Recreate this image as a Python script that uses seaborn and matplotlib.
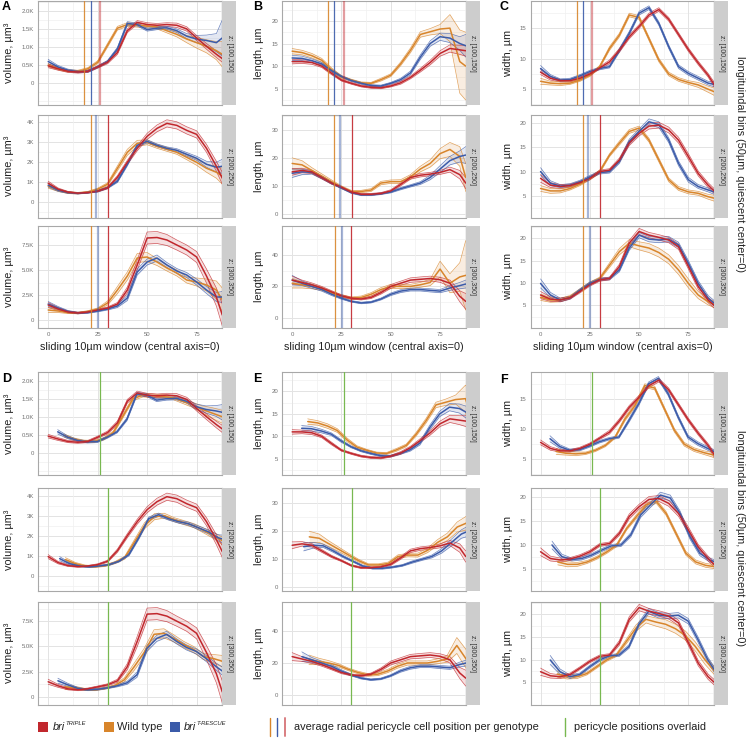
import numpy as np
import pandas as pd
import matplotlib
matplotlib.use("Agg")
import matplotlib.pyplot as plt
import seaborn as sns
from matplotlib.patches import Rectangle
from matplotlib.lines import Line2D

# ---------------- data ----------------
xs = [0, 5, 10, 15, 20, 25, 30, 35, 40, 45, 50, 55, 60, 65, 70, 75, 80, 85, 88]

# volume (thousands of µm³)
vol1_tri = [0.48,0.40,0.33,0.31,0.33,0.45,0.58,0.85,1.45,1.68,1.62,1.60,1.62,1.60,1.50,1.25,1.02,0.80,0.68]
vol1_tri_se = [0.05,0.04,0.03,0.03,0.03,0.03,0.04,0.05,0.05,0.05,0.05,0.05,0.05,0.06,0.06,0.07,0.08,0.09,0.10]
vol1_wt = [0.50,0.40,0.34,0.33,0.40,0.58,1.05,1.52,1.62,1.60,1.58,1.55,1.45,1.35,1.22,1.12,1.02,0.90,0.80]
vol1_wt_se = [0.04,0.03,0.03,0.03,0.03,0.04,0.05,0.05,0.05,0.05,0.05,0.05,0.06,0.07,0.10,0.15,0.18,0.25,0.35]
vol1_res = [0.60,0.45,0.36,0.32,0.33,0.45,0.60,0.95,1.65,1.62,1.48,1.52,1.53,1.45,1.30,1.22,1.18,1.12,1.25]
vol1_res_se = [0.06,0.04,0.03,0.03,0.03,0.03,0.03,0.04,0.05,0.04,0.04,0.04,0.04,0.05,0.07,0.10,0.15,0.25,0.50]

vol2_tri = [0.95,0.65,0.50,0.45,0.48,0.55,0.72,1.25,2.00,2.70,3.30,3.70,3.95,3.85,3.60,3.40,2.70,1.80,1.20]
vol2_tri_se = [0.10,0.06,0.04,0.03,0.03,0.04,0.05,0.08,0.10,0.12,0.15,0.17,0.18,0.18,0.18,0.18,0.20,0.25,0.30]
vol2_wt = [0.80,0.60,0.48,0.45,0.50,0.65,0.90,1.70,2.50,2.95,3.00,2.80,2.65,2.50,2.25,2.00,1.70,1.50,1.30]
vol2_wt_se = [0.10,0.06,0.05,0.04,0.04,0.05,0.07,0.12,0.15,0.15,0.12,0.10,0.10,0.10,0.12,0.15,0.20,0.30,0.40]
vol2_res = [0.85,0.60,0.48,0.44,0.48,0.55,0.72,1.05,1.90,2.85,3.05,2.85,2.70,2.60,2.40,2.20,1.90,1.75,1.80]
vol2_res_se = [0.10,0.06,0.04,0.03,0.03,0.04,0.04,0.06,0.08,0.08,0.08,0.07,0.07,0.08,0.09,0.10,0.15,0.25,0.35]

vol3_tri = [1.50,1.10,0.80,0.70,0.80,1.00,1.20,1.60,3.00,5.50,8.20,8.25,8.00,7.50,7.00,6.30,4.40,2.30,0.50]
vol3_tri_se = [0.25,0.15,0.10,0.08,0.08,0.08,0.10,0.15,0.30,0.50,0.60,0.60,0.55,0.50,0.50,0.55,0.70,0.90,1.10]
vol3_wt = [1.00,0.90,0.75,0.70,0.85,1.10,1.70,3.00,4.40,6.20,6.30,5.80,5.20,4.70,4.00,3.80,3.50,3.00,2.00]
vol3_wt_se = [0.25,0.15,0.10,0.08,0.08,0.10,0.20,0.35,0.40,0.45,0.45,0.35,0.30,0.30,0.30,0.40,0.60,0.90,1.20]
vol3_res = [1.60,1.20,0.85,0.70,0.75,0.90,1.10,1.40,2.20,4.80,5.80,6.20,5.50,4.90,4.50,3.80,3.00,2.30,2.30]
vol3_res_se = [0.25,0.15,0.10,0.08,0.08,0.08,0.10,0.15,0.25,0.30,0.30,0.30,0.25,0.25,0.25,0.30,0.35,0.45,0.55]

# length (µm)
len1_tri = [11.0,11.0,10.8,10.0,8.4,6.9,6.2,5.6,5.3,5.2,5.6,6.3,7.5,9.1,10.8,12.8,13.9,13.6,13.4]
len1_tri_se = [0.5,0.4,0.4,0.3,0.3,0.2,0.2,0.2,0.2,0.2,0.2,0.3,0.3,0.4,0.5,0.6,0.8,1.0,1.2]
len1_wt = [13.3,13.0,12.3,11.3,9.2,7.6,6.9,6.3,6.2,7.0,8.0,10.5,13.5,17.0,17.6,18.2,18.4,11.0,10.0]
len1_wt_se = [0.6,0.5,0.5,0.4,0.4,0.3,0.2,0.2,0.2,0.3,0.3,0.4,0.5,0.6,0.7,1.0,3.0,7.0,7.5]
len1_res = [11.8,11.7,11.2,10.5,9.0,7.7,6.8,6.2,5.7,5.6,6.2,7.0,8.5,12.0,15.0,16.5,16.2,15.0,14.5]
len1_res_se = [0.6,0.5,0.4,0.3,0.3,0.2,0.2,0.2,0.2,0.2,0.2,0.3,0.4,0.5,0.6,0.8,1.0,1.5,2.5]

len2_tri = [15.0,15.5,15.0,13.0,11.0,9.5,7.8,7.0,7.0,7.3,8.2,10.5,13.0,13.8,14.2,14.8,15.8,14.0,11.0]
len2_tri_se = [1.2,0.8,0.6,0.5,0.4,0.3,0.3,0.3,0.3,0.3,0.4,0.5,0.6,0.6,0.6,0.7,0.9,1.5,2.0]
len2_wt = [18.0,17.5,15.5,13.5,11.5,9.5,8.0,8.0,8.5,11.0,11.5,11.5,13.2,16.0,18.0,21.5,23.0,20.5,13.0]
len2_wt_se = [2.0,1.5,1.0,0.8,0.6,0.5,0.4,0.4,0.5,0.6,0.6,0.7,0.8,1.0,1.3,1.8,2.5,3.5,5.0]
len2_res = [14.5,15.0,14.8,13.0,11.0,9.3,7.6,6.8,6.8,7.2,7.8,9.0,10.0,11.0,13.0,16.0,19.0,20.5,21.0]
len2_res_se = [1.5,1.0,0.6,0.5,0.4,0.3,0.3,0.3,0.3,0.3,0.3,0.4,0.4,0.5,0.8,1.2,1.5,2.0,3.0]

len3_tri = [24.0,22.5,21.0,19.0,16.5,14.0,12.5,12.0,13.0,16.0,20.0,22.0,24.0,24.5,25.0,24.2,22.0,13.7,10.5]
len3_tri_se = [2.5,1.5,1.2,1.0,0.8,0.7,0.6,0.6,0.7,0.9,1.2,1.3,1.4,1.5,1.5,1.6,2.0,3.5,5.0]
len3_wt = [22.0,21.0,20.0,18.5,16.0,14.0,12.5,13.0,15.0,18.0,20.0,20.0,20.0,21.0,22.5,31.0,22.0,26.0,27.0]
len3_wt_se = [3.0,2.0,1.5,1.0,0.8,0.8,0.8,0.9,1.0,1.2,1.3,1.3,1.3,1.5,2.0,5.0,6.0,9.0,22.0]
len3_res = [24.0,22.0,20.0,18.0,15.0,12.5,10.5,9.5,10.0,12.0,15.0,17.0,18.0,18.0,17.5,17.0,19.0,20.5,21.5]
len3_res_se = [3.0,1.5,1.2,1.0,0.8,0.6,0.5,0.5,0.5,0.6,0.8,0.9,0.9,0.9,1.0,1.0,1.5,2.0,2.5]

# width (µm)
wid1_tri = [7.8,6.8,6.4,6.4,6.8,7.5,8.5,9.5,11.4,13.6,15.3,17.2,18.1,16.5,14.0,11.5,9.3,7.3,5.8]
wid1_tri_se = [0.4,0.3,0.2,0.2,0.2,0.2,0.2,0.3,0.3,0.3,0.3,0.3,0.3,0.3,0.3,0.3,0.3,0.3,0.4]
wid1_wt = [6.3,6.0,5.9,6.0,6.5,7.3,8.7,11.7,13.9,17.2,16.8,13.3,9.8,7.5,6.6,6.1,5.7,5.0,4.6]
wid1_wt_se = [0.5,0.3,0.3,0.2,0.2,0.2,0.2,0.3,0.3,0.3,0.3,0.3,0.3,0.3,0.3,0.3,0.4,0.5,0.6]
wid1_res = [8.4,7.1,6.5,6.6,7.2,7.9,8.4,8.7,11.4,14.2,17.5,18.4,15.8,12.0,8.7,7.6,6.8,6.0,5.8]
wid1_res_se = [0.5,0.3,0.2,0.2,0.2,0.2,0.2,0.2,0.3,0.3,0.3,0.3,0.3,0.3,0.3,0.3,0.3,0.3,0.4]

wid2_tri = [8.6,7.2,6.9,7.1,7.7,8.6,10.0,10.3,12.4,15.9,17.9,19.4,19.6,18.6,16.5,13.1,9.6,7.2,6.0]
wid2_tri_se = [0.8,0.5,0.4,0.3,0.3,0.3,0.3,0.3,0.4,0.5,0.5,0.6,0.6,0.6,0.6,0.6,0.5,0.5,0.5]
wid2_wt = [6.5,6.0,6.0,6.5,7.4,8.6,10.0,13.4,15.9,18.3,19.0,16.5,12.4,8.3,6.5,5.8,5.5,4.8,4.5]
wid2_wt_se = [0.6,0.5,0.4,0.3,0.3,0.3,0.3,0.3,0.4,0.4,0.4,0.4,0.4,0.4,0.4,0.4,0.4,0.5,0.6]
wid2_res = [10.0,7.6,7.0,7.2,7.9,8.9,9.8,10.0,12.1,16.2,18.3,20.3,19.7,16.5,11.7,8.3,6.9,6.2,5.8]
wid2_res_se = [0.8,0.5,0.3,0.3,0.3,0.3,0.3,0.3,0.4,0.5,0.5,0.6,0.6,0.5,0.5,0.5,0.4,0.4,0.5]

wid3_tri = [7.3,6.4,6.2,6.7,8.1,9.6,10.7,11.0,13.7,18.9,21.5,20.7,20.2,19.6,18.1,13.7,9.2,6.2,5.0]
wid3_tri_se = [0.8,0.5,0.4,0.3,0.3,0.3,0.3,0.3,0.5,0.6,0.7,0.6,0.6,0.6,0.6,0.6,0.6,0.6,0.6]
wid3_wt = [6.8,6.2,6.2,6.9,8.4,9.9,11.0,14.0,17.0,18.9,18.3,17.8,16.8,15.3,12.9,9.9,7.3,5.8,5.2]
wid3_wt_se = [0.7,0.5,0.4,0.3,0.3,0.3,0.3,0.5,0.7,0.8,0.9,1.0,1.0,1.0,1.0,1.0,0.8,0.7,0.7]
wid3_res = [9.9,7.3,6.2,6.7,8.4,9.9,10.8,11.0,12.9,17.8,20.7,19.8,19.6,19.8,18.5,14.4,9.9,6.6,5.5]
wid3_res_se = [1.0,0.6,0.4,0.3,0.3,0.3,0.3,0.3,0.4,0.5,0.6,0.6,0.6,0.6,0.6,0.6,0.6,0.6,0.6]

# average radial pericycle cell position per genotype, per z bin
peri_tri = [26.2, 30.1, 30.0]
peri_wt = [18.3, 21.4, 21.5]
peri_res = [21.4, 24.3, 25.1]

z_bins = ["z: [100,150]", "z: [200,250]", "z: [300,350]"]
genotypes = ["wt", "res", "tri"]

DATA = {
    "vol": [
        {"tri": (vol1_tri, vol1_tri_se), "wt": (vol1_wt, vol1_wt_se), "res": (vol1_res, vol1_res_se)},
        {"tri": (vol2_tri, vol2_tri_se), "wt": (vol2_wt, vol2_wt_se), "res": (vol2_res, vol2_res_se)},
        {"tri": (vol3_tri, vol3_tri_se), "wt": (vol3_wt, vol3_wt_se), "res": (vol3_res, vol3_res_se)},
    ],
    "len": [
        {"tri": (len1_tri, len1_tri_se), "wt": (len1_wt, len1_wt_se), "res": (len1_res, len1_res_se)},
        {"tri": (len2_tri, len2_tri_se), "wt": (len2_wt, len2_wt_se), "res": (len2_res, len2_res_se)},
        {"tri": (len3_tri, len3_tri_se), "wt": (len3_wt, len3_wt_se), "res": (len3_res, len3_res_se)},
    ],
    "wid": [
        {"tri": (wid1_tri, wid1_tri_se), "wt": (wid1_wt, wid1_wt_se), "res": (wid1_res, wid1_res_se)},
        {"tri": (wid2_tri, wid2_tri_se), "wt": (wid2_wt, wid2_wt_se), "res": (wid2_res, wid2_res_se)},
        {"tri": (wid3_tri, wid3_tri_se), "wt": (wid3_wt, wid3_wt_se), "res": (wid3_res, wid3_res_se)},
    ],
}
PERI = {"tri": peri_tri, "wt": peri_wt, "res": peri_res}

# ---------------- style ----------------
sns.set_theme(style="white")
plt.rcParams["font.family"] = ["Liberation Sans", "DejaVu Sans"]

PAL = {"tri": "#C1272D", "wt": "#D8852B", "res": "#3B5BA9"}
GREEN = "#78B850"

W, H = 748, 754
fig = plt.figure(figsize=(W / 100, H / 100), dpi=100)


def fr(x0, y0, x1, y1):
    return [x0 / W, 1 - y1 / H, (x1 - x0) / W, (y1 - y0) / H]


COLS = [(38.3, 222.3), (282.3, 465.7), (530.7, 714.0)]
STRIP_W = 14
TOP_ROWS = [(1, 105), (115, 217.5), (225.7, 327.7)]
BOT_ROWS = [(371.7, 475), (488.3, 591), (601.7, 704.7)]
METRICS = ["vol", "len", "wid"]
YLABELS = {"vol": "volume, µm³", "len": "length, µm", "wid": "width, µm"}
YLABEL_X = [9, 259, 508]

YLIM = {
    "vol": [(-0.6, 2.27), (-0.77, 4.37), (-0.77, 9.43)],
    "len": [(1.4, 24.4), (-1.3, 35.3), (-6.2, 58.5)],
    "wid": [(2.4, 19.5), (0.5, 21.7), (0.0, 22.8)],
}
YTICKS = {
    "vol": [([0, 0.5, 1.0, 1.5, 2.0], ["0", "0.5K", "1.0K", "1.5K", "2.0K"]),
            ([0, 1, 2, 3, 4], ["0", "1K", "2K", "3K", "4K"]),
            ([0, 2.5, 5.0, 7.5], ["0", "2.5K", "5.0K", "7.5K"])],
    "len": [([5, 10, 15, 20], ["5", "10", "15", "20"]),
            ([0, 10, 20, 30], ["0", "10", "20", "30"]),
            ([0, 20, 40], ["0", "20", "40"])],
    "wid": [([5, 10, 15], ["5", "10", "15"]),
            ([5, 10, 15, 20], ["5", "10", "15", "20"]),
            ([5, 10, 15, 20], ["5", "10", "15", "20"])],
}
XMAJ = [0, 25, 50, 75]
XMIN = [12.5, 37.5, 62.5, 87.5]
# pale (semi-transparent) pericycle marker per row, as in the reference
PALE = [{"tri"}, {"res"}, {"res"}]


def draw_panel(ax, metric, row, shifted):
    frames = []
    for g in genotypes:
        mean, se = DATA[metric][row][g]
        shift = (PERI["tri"][row] - PERI[g][row]) if shifted else 0.0
        mean = np.asarray(mean, float)
        se = np.asarray(se, float)
        frames.append(pd.DataFrame({
            "x": np.asarray(xs, float) + shift,
            "mean": mean, "lo": mean - se, "hi": mean + se, "genotype": g}))
    df = pd.concat(frames, ignore_index=True)
    for g in genotypes:
        d = df[df.genotype == g]
        ax.fill_between(d["x"], d["lo"], d["hi"], color=PAL[g], alpha=0.14, lw=0, zorder=2)
    for col in ["lo", "hi"]:
        sns.lineplot(data=df, x="x", y=col, hue="genotype", palette=PAL, hue_order=genotypes,
                     estimator=None, sort=False, lw=0.5, alpha=0.75, legend=False, ax=ax, zorder=3)
    sns.lineplot(data=df, x="x", y="mean", hue="genotype", palette=PAL, hue_order=genotypes,
                 estimator=None, sort=False, lw=1.1, legend=False, ax=ax, zorder=4)
    for ln in ax.get_lines():
        ln.set_solid_joinstyle("round")

    ylo, yhi = YLIM[metric][row]
    ticks, labels = YTICKS[metric][row]
    step = ticks[1] - ticks[0]
    k0 = int(np.floor(ylo / (step / 2))) - 1
    k1 = int(np.ceil(yhi / (step / 2))) + 1
    allt = [k * step / 2 for k in range(k0, k1 + 1)]
    minors = [t for t in allt if ylo <= t <= yhi and all(abs(t - m) > 1e-9 for m in ticks)]
    for t in minors:
        ax.axhline(t, color="#F0F0F0", lw=0.5, zorder=0)
    for t in ticks:
        ax.axhline(t, color="#E3E3E3", lw=0.7, zorder=0)
    for t in XMIN:
        ax.axvline(t, color="#F0F0F0", lw=0.5, zorder=0)
    for t in XMAJ:
        ax.axvline(t, color="#E3E3E3", lw=0.7, zorder=0)

    ax.set_xlim(-5, 88)
    ax.set_ylim(ylo, yhi)
    ax.set_yticks(ticks)
    ax.set_yticklabels(labels)
    ax.set_xticks(XMAJ)
    ax.set_xlabel("")
    ax.set_ylabel("")
    ax.tick_params(axis="y", length=2, width=0.5, color="#999999", labelsize=4.3,
                   labelcolor="#707070", pad=1)
    ax.tick_params(axis="x", length=2, width=0.5, color="#999999", labelsize=4.3,
                   labelcolor="#707070", pad=1)
    for s in ax.spines.values():
        s.set_color("#A8A8A8")
        s.set_linewidth(0.8)
    ax.set_facecolor("white")

    if shifted:
        ax.axvline(PERI["tri"][row], color=GREEN, lw=0.9, zorder=5)
    else:
        for g in ["wt", "res", "tri"]:
            if g in PALE[row]:
                ax.axvline(PERI[g][row], color=PAL[g], lw=1.6, alpha=0.45, zorder=5)
            else:
                ax.axvline(PERI[g][row], color=PAL[g], lw=0.9, alpha=0.9, zorder=5)


for block, rows in enumerate([TOP_ROWS, BOT_ROWS]):
    shifted = block == 1
    for c, metric in enumerate(METRICS):
        x0, x1 = COLS[c]
        for r, (y0, y1) in enumerate(rows):
            ax = fig.add_axes(fr(x0, y0, x1, y1))
            draw_panel(ax, metric, r, shifted)
            if shifted or r < 2:
                ax.set_xticklabels([])
                if shifted:
                    ax.tick_params(axis="x", length=0)
            sax = fig.add_axes(fr(x1, y0, x1 + STRIP_W, y1))
            sax.set_facecolor("#CDCDCD")
            sax.set_xticks([])
            sax.set_yticks([])
            for s in sax.spines.values():
                s.set_visible(False)
            sax.text(0.5, 0.5, z_bins[r], rotation=270, ha="center", va="center",
                     fontsize=5, color="#333333", transform=sax.transAxes)
            fig.text(YLABEL_X[c] / W, 1 - ((y0 + y1) / 2) / H, YLABELS[metric], rotation=90,
                     ha="center", va="center", fontsize=7.8, color="#222222")
        if not shifted:
            fig.text(((x0 + x1) / 2) / W, 1 - 347 / H, "sliding 10µm window (central axis=0)",
                     ha="center", va="center", fontsize=7.8, color="#222222")

for letter, (px, py) in zip("ABCDEF", [(2, 1), (253, 1), (500, 1), (2, 373), (253, 373), (500, 374)]):
    fig.text(px / W, 1 - py / H, letter, ha="left", va="top", fontsize=9, fontweight="bold",
             color="black")

for yc in [164, 538]:
    fig.text(740 / W, 1 - yc / H, "longituindal bins (50µm, quiescent center=0)", rotation=270,
             ha="center", va="center", fontsize=7.8, color="#222222")

# ---------------- legend ----------------
LY = 727


def square(x, col):
    fig.add_artist(Rectangle((x / W, 1 - (LY + 5) / H), 9.5 / W, 10 / H,
                             transform=fig.transFigure, color=col, lw=0))


def vline(x, col, lw=1.0, alpha=1.0):
    fig.add_artist(Line2D([x / W, x / W], [1 - (LY + 9) / H, 1 - (LY - 9) / H],
                          transform=fig.transFigure, color=col, lw=lw, alpha=alpha))


square(38.2, PAL["tri"])
fig.text(52.5 / W, 1 - LY / H, "bri", style="italic", fontsize=7.9, ha="left", va="center",
         color="#222222")
fig.text(65 / W, 1 - (LY - 3.5) / H, "TRIPLE", style="italic", fontsize=4.2, ha="left",
         va="center", color="#222222")
square(104, PAL["wt"])
fig.text(117 / W, 1 - LY / H, "Wild type", fontsize=7.9, ha="left", va="center", color="#222222")
square(170, PAL["res"])
fig.text(184 / W, 1 - LY / H, "bri", style="italic", fontsize=7.9, ha="left", va="center",
         color="#222222")
fig.text(196.5 / W, 1 - (LY - 3.5) / H, "T-RESCUE", style="italic", fontsize=4.2, ha="left",
         va="center", color="#222222")
vline(270, PAL["wt"])
vline(277, PAL["res"])
vline(285, PAL["tri"], lw=1.4, alpha=0.6)
fig.text(293.5 / W, 1 - LY / H, "average radial pericycle cell position per genotype",
         fontsize=7.9, ha="left", va="center", color="#222222")
vline(565, GREEN)
fig.text(574 / W, 1 - LY / H, "pericycle positions overlaid", fontsize=7.9, ha="left",
         va="center", color="#222222")

fig.savefig("out.png", dpi=100, facecolor="white")
